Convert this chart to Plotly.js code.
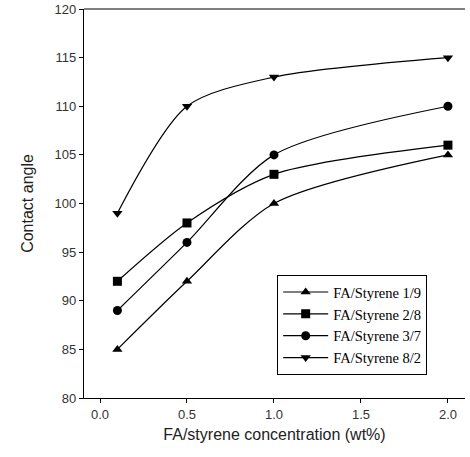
<!DOCTYPE html>
<html>
<head>
<meta charset="utf-8">
<script src="https://cdn.plot.ly/plotly-3.0.1.min.js"></script>
<style>html,body{margin:0;padding:0;background:#fff;}#chart{width:470px;height:457px;}</style>
</head>
<body>
<div id="chart"></div>
<script>
var conc = [0.1, 0.5, 1.0, 2.0];
var names = ["FA/Styrene 1/9", "FA/Styrene 2/8", "FA/Styrene 3/7", "FA/Styrene 8/2"];
var s19 = [85, 92, 100, 105];
var s28 = [92, 98, 103, 106];
var s37 = [89, 96, 105, 110];
var s82 = [99, 110, 113, 115];
var xTicks = [0.0, 0.5, 1.0, 1.5, 2.0];
var xTickText = ["0.0", "0.5", "1.0", "1.5", "2.0"];
var yTicks = [80, 85, 90, 95, 100, 105, 110, 115, 120];

var symbols = ["triangle-up", "square", "circle", "triangle-down"];
var series = [s19, s28, s37, s82];
var traces = series.map(function (s, i) {
  return {
    x: conc, y: s, name: names[i], type: "scatter", mode: "lines+markers",
    line: {color: "#000", width: 1.2, shape: "spline", smoothing: 0.8},
    marker: {symbol: symbols[i], size: 9, color: "#000"}
  };
});

var layout = {
  width: 470, height: 457,
  margin: {l: 84, r: 5, t: 9, b: 59},
  paper_bgcolor: "#fff", plot_bgcolor: "#fff",
  showlegend: true,
  legend: {
    x: 0.507, y: 0.316, xanchor: "left", yanchor: "top",
    bordercolor: "#000", borderwidth: 1, bgcolor: "#fff",
    font: {family: "Liberation Serif, Times New Roman, serif", size: 14.5, color: "#000"},
    itemwidth: 45, tracegroupgap: 0
  },
  xaxis: {
    range: [-0.092, 2.098], tickvals: xTicks, ticktext: xTickText,
    showgrid: false, zeroline: false, showline: true, linecolor: "#000", linewidth: 1.2,
    ticks: "outside", ticklen: 4, tickcolor: "#000",
    tickfont: {family: "Liberation Sans, Arial, sans-serif", size: 13, color: "#333"},
    title: {text: "FA/styrene concentration (wt%)", font: {family: "Liberation Sans, Arial, sans-serif", size: 16, color: "#222"}, standoff: 8}
  },
  yaxis: {
    range: [80, 120], tickvals: yTicks,
    showgrid: false, zeroline: false, showline: true, linecolor: "#000", linewidth: 1.2,
    ticks: "outside", ticklen: 4, tickcolor: "#000",
    tickfont: {family: "Liberation Sans, Arial, sans-serif", size: 13, color: "#333"},
    title: {text: "Contact angle", font: {family: "Liberation Sans, Arial, sans-serif", size: 16, color: "#222"}, standoff: 16}
  },
  shapes: [{type: "line", xref: "paper", yref: "paper", x0: 0, x1: 1, y0: 1, y1: 1, line: {color: "#000", width: 1.2}}]
};

Plotly.newPlot("chart", traces, layout, {displayModeBar: false, staticPlot: true});
</script>
</body>
</html>
